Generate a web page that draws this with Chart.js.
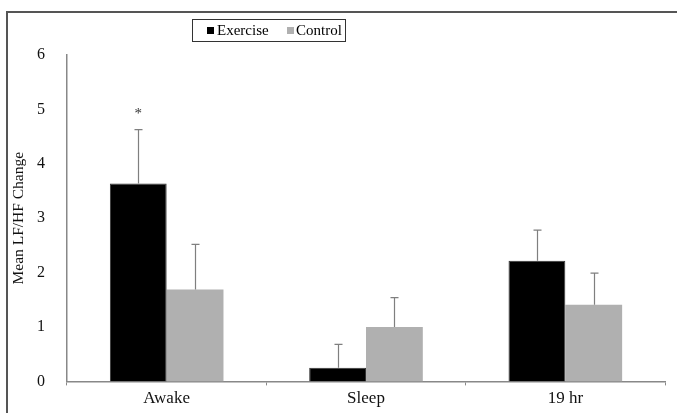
<!DOCTYPE html>
<html>
<head>
<meta charset="utf-8">
<script src="https://cdn.jsdelivr.net/npm/chart.js@4"></script>
<style>
  html, body { margin: 0; padding: 0; background: #fff; }
  #wrap { position: relative; width: 677px; height: 413px; }
</style>
</head>
<body>
<div id="wrap"><canvas id="chart" width="677" height="413"></canvas></div>
<script>
const categories = ['Awake', 'Sleep', '19 hr'];
const exerciseValues = [3.64, 0.25, 2.22];
const exerciseErrors = [0.99, 0.43, 0.56];
const controlValues = [1.69, 1.0, 1.41];
const controlErrors = [0.83, 0.54, 0.58];
const yTicks = [0, 1, 2, 3, 4, 5, 6];
const significant = [true, false, false]; // asterisk on exercise bar

const FONT = "'Liberation Serif', 'DejaVu Serif', serif";

// upper-only error bars plus the asterisk
const errorBars = {
  id: 'errorBars',
  afterDatasetsDraw(chart) {
    const ctx = chart.ctx;
    const y = chart.scales.y;
    const errs = [exerciseErrors, controlErrors];
    ctx.save();
    ctx.strokeStyle = '#7f7f7f';
    ctx.lineWidth = 1.2;
    chart.data.datasets.forEach((ds, i) => {
      const meta = chart.getDatasetMeta(i);
      meta.data.forEach((bar, j) => {
        const top = y.getPixelForValue(ds.data[j] + errs[i][j]);
        const x = Math.round(bar.x) + 0.5;
        ctx.beginPath();
        ctx.moveTo(x, bar.y);
        ctx.lineTo(x, top);
        ctx.moveTo(x - 4, top);
        ctx.lineTo(x + 4, top);
        ctx.stroke();
        if (i === 0 && significant[j]) {
          ctx.fillStyle = '#333';
          ctx.font = '15px ' + FONT;
          ctx.textAlign = 'center';
          ctx.fillText('*', bar.x, top - 12);
        }
      });
    });
    ctx.restore();
  }
};

// boxed legend and outer frame
const boxLegend = {
  id: 'boxLegend',
  afterDraw(chart) {
    const ctx = chart.ctx;
    ctx.save();
    ctx.strokeStyle = '#555';
    ctx.lineWidth = 2;
    ctx.strokeRect(7, 12, 680, 420);

    ctx.lineWidth = 1;
    ctx.strokeStyle = '#333';
    ctx.strokeRect(192.5, 19.5, 153, 22);
    ctx.font = '15px ' + FONT;
    ctx.textBaseline = 'middle';
    ctx.textAlign = 'left';
    ctx.fillStyle = '#000';
    ctx.fillRect(207, 27, 7, 7);
    ctx.fillText('Exercise', 217, 31);
    ctx.fillStyle = '#b0b0b0';
    ctx.fillRect(287, 27, 7, 7);
    ctx.fillStyle = '#000';
    ctx.fillText('Control', 296, 31);
    ctx.restore();
  }
};

new Chart(document.getElementById('chart'), {
  type: 'bar',
  data: {
    labels: categories,
    datasets: [
      { label: 'Exercise', data: exerciseValues, backgroundColor: '#000', borderColor: '#333', borderWidth: 1 },
      { label: 'Control', data: controlValues, backgroundColor: '#b0b0b0', borderWidth: 0 }
    ]
  },
  options: {
    responsive: false,
    animation: false,
    layout: { padding: { top: 55, right: 12, left: 0, bottom: 0 } },
    datasets: { bar: { barPercentage: 1, categoryPercentage: 0.57 } },
    plugins: {
      legend: { display: false },
      tooltip: { enabled: false }
    },
    scales: {
      x: {
        afterFit: s => { s.height = 31; },
        grid: { offset: true, drawOnChartArea: false, drawTicks: true, tickLength: 4, color: '#888' },
        border: { color: '#888', width: 1.5 },
        ticks: { color: '#111', font: { family: FONT, size: 17 }, padding: 3 }
      },
      y: {
        min: 0,
        max: 6,
        afterFit: s => { s.width = 67; },
        afterBuildTicks: s => { s.ticks = yTicks.map(v => ({ value: v })); },
        grid: { display: false, drawTicks: false },
        border: { color: '#888', width: 1.5 },
        ticks: { color: '#111', font: { family: FONT, size: 16 }, padding: 22 },
        title: {
          display: true,
          text: 'Mean LF/HF Change',
          color: '#111',
          font: { family: FONT, size: 15.5 },
          padding: { top: 10, bottom: 0 }
        }
      }
    }
  },
  plugins: [errorBars, boxLegend]
});
</script>
</body>
</html>
